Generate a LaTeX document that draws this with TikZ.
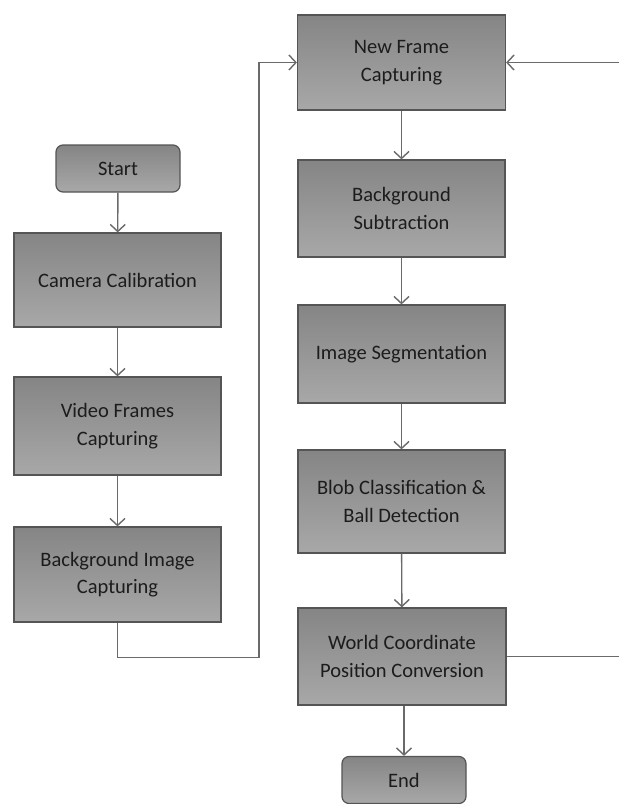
\documentclass[tikz,border=0pt]{standalone}
\usepackage{fontspec}
\setmainfont{Carlito}
\usetikzlibrary{arrows.meta}
\definecolor{boxline}{HTML}{555555}
\definecolor{boxtop}{HTML}{858585}
\definecolor{boxbot}{HTML}{A8A8A8}
\definecolor{conn}{HTML}{6A6A6A}
\definecolor{txt}{HTML}{1C1C1C}
\begin{document}
\begin{tikzpicture}[x=1pt,y=-1pt,
  procbox/.style={draw=boxline,line width=1.2pt,top color=boxtop,bottom color=boxbot,
    minimum width=207pt,minimum height=96pt,inner sep=0pt,align=center,text=txt,
    font=\fontsize{20.5}{27.5}\selectfont},
  termbox/.style={procbox,rounded corners=7pt,minimum width=124pt,minimum height=47pt},
  conn/.style={draw=conn,line width=1.4pt},
  arr/.style={conn,-{Straight Barb[length=7pt,width=15pt,line width=1.4pt]}}]
\useasboundingbox (0,0) rectangle (619,804);
\node[termbox] (start) at (118,168.5) {Start};
\node[procbox,minimum height=94pt] (cam) at (117.5,280) {Camera Calibration};
\node[procbox,minimum height=98pt] (vid) at (117.5,426) {Video Frames\\Capturing};
\node[procbox,minimum height=95pt] (bg) at (117.5,574.5) {Background Image\\Capturing};
\node[procbox,minimum height=95pt,minimum width=208pt] (nf) at (401.5,62.5) {New Frame\\Capturing};
\node[procbox,minimum height=97pt] (bs) at (401.5,208.5) {Background\\Subtraction};
\node[procbox,minimum height=98pt] (is) at (401.5,354) {Image Segmentation};
\node[procbox,minimum height=103pt] (blob) at (401.5,501.5) {Blob Classification \&\\Ball Detection};
\node[procbox,minimum height=97pt,minimum width=208pt] (wc) at (402,656.5) {World Coordinate\\Position Conversion};
\node[termbox] (end) at (404,780) {End};
\coordinate (fbout) at (619,656.5);
\coordinate (fbin) at (619,62.5);
\draw[arr] (start) -- (cam);
\draw[arr] (cam) -- (vid);
\draw[arr] (vid) -- (bg);
\draw[arr] (bg.south) -- ++(0,35) -| (259,62.5) -- (nf.west);
\draw[arr] (nf) -- (bs);
\draw[arr] (bs) -- (is);
\draw[arr] (is) -- (blob);
\draw[arr] (blob) -- (wc);
\draw[arr] (wc.south -| end.north) -- (end.north);
\draw[conn] (wc.east) -- (fbout);
\draw[arr] (fbin) -- (nf.east);
\end{tikzpicture}
\end{document}
